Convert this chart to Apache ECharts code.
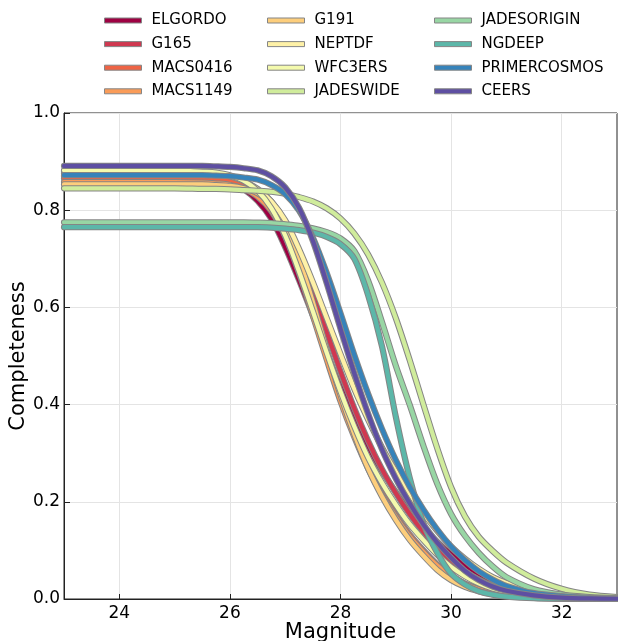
<!DOCTYPE html>
<html>
<head>
<meta charset="utf-8">
<script src="https://cdn.jsdelivr.net/npm/echarts@6/dist/echarts.min.js"></script>
<style>
html,body{margin:0;padding:0;background:#fff;}
#chart{width:618px;height:641px;}
</style>
</head>
<body>
<div id="chart"></div>
<script>
// Magnitude grid shared by all series
var mags = [23, 24, 25, 25.5, 25.75, 26, 26.25, 26.5, 26.75, 27, 27.25, 27.5, 27.75, 28, 28.25, 28.5, 28.75, 29, 29.25, 29.5, 29.75, 30, 30.25, 30.5, 30.75, 31, 31.5, 32, 32.5, 33];

var ELGORDO = [0.876, 0.876, 0.875, 0.872, 0.867, 0.858, 0.843, 0.819, 0.782, 0.724, 0.656, 0.583, 0.508, 0.436, 0.372, 0.314, 0.263, 0.220, 0.181, 0.147, 0.118, 0.092, 0.070, 0.051, 0.037, 0.026, 0.013, 0.007, 0.003, 0.0015];
var G165 = [0.870, 0.870, 0.870, 0.868, 0.867, 0.863, 0.856, 0.842, 0.818, 0.777, 0.711, 0.633, 0.550, 0.468, 0.392, 0.325, 0.267, 0.218, 0.175, 0.138, 0.106, 0.079, 0.057, 0.040, 0.027, 0.018, 0.0085, 0.0037, 0.0016, 0.0008];
var MACS0416 = [0.865, 0.865, 0.865, 0.864, 0.862, 0.860, 0.852, 0.837, 0.808, 0.758, 0.683, 0.596, 0.504, 0.417, 0.341, 0.274, 0.220, 0.173, 0.133, 0.100, 0.071, 0.048, 0.032, 0.021, 0.0137, 0.009, 0.0036, 0.0015, 0.0007, 0.0003];
var MACS1149 = [0.858, 0.858, 0.858, 0.857, 0.855, 0.852, 0.844, 0.828, 0.798, 0.746, 0.671, 0.583, 0.493, 0.407, 0.333, 0.268, 0.214, 0.169, 0.129, 0.097, 0.069, 0.047, 0.031, 0.020, 0.0132, 0.0087, 0.0035, 0.0014, 0.0006, 0.0003];
var G191 = [0.853, 0.853, 0.853, 0.853, 0.8515, 0.850, 0.845, 0.835, 0.813, 0.771, 0.701, 0.611, 0.513, 0.420, 0.339, 0.268, 0.211, 0.163, 0.122, 0.089, 0.060, 0.039, 0.025, 0.016, 0.0098, 0.0067, 0.0025, 0.0009, 0.0004, 0.0002];
var NEPTDF = [0.880, 0.880, 0.880, 0.877, 0.875, 0.870, 0.860, 0.844, 0.818, 0.779, 0.720, 0.652, 0.578, 0.504, 0.432, 0.369, 0.312, 0.262, 0.217, 0.176, 0.140, 0.108, 0.083, 0.062, 0.045, 0.033, 0.017, 0.0085, 0.0043, 0.0022];
var WFC3ERS = [0.882, 0.882, 0.882, 0.879, 0.8776, 0.872, 0.8606, 0.840, 0.804, 0.748, 0.674, 0.592, 0.507, 0.427, 0.355, 0.291, 0.239, 0.194, 0.154, 0.121, 0.091, 0.066, 0.047, 0.032, 0.0215, 0.015, 0.0071, 0.0031, 0.0013, 0.0006];
var JADESWIDE = [0.845, 0.845, 0.845, 0.844, 0.8437, 0.843, 0.8415, 0.840, 0.838, 0.834, 0.827, 0.818, 0.804, 0.783, 0.752, 0.709, 0.651, 0.578, 0.492, 0.400, 0.310, 0.230, 0.170, 0.128, 0.099, 0.075, 0.042, 0.021, 0.009, 0.004];
var JADESORIGIN = [0.775, 0.775, 0.775, 0.775, 0.775, 0.775, 0.775, 0.7745, 0.7735, 0.771, 0.768, 0.763, 0.755, 0.742, 0.716, 0.655, 0.570, 0.480, 0.400, 0.315, 0.237, 0.175, 0.130, 0.095, 0.067, 0.045, 0.020, 0.009, 0.004, 0.002];
var NGDEEP = [0.765, 0.765, 0.765, 0.765, 0.765, 0.765, 0.765, 0.765, 0.764, 0.762, 0.759, 0.754, 0.745, 0.730, 0.700, 0.625, 0.520, 0.375, 0.250, 0.155, 0.095, 0.052, 0.030, 0.016, 0.009, 0.005, 0.0015, 0.0005, 0.0002, 0.0001];
var PRIMERCOSMOS = [0.872, 0.872, 0.872, 0.872, 0.8711, 0.870, 0.8672, 0.863, 0.852, 0.833, 0.799, 0.744, 0.671, 0.588, 0.502, 0.422, 0.350, 0.286, 0.231, 0.184, 0.143, 0.108, 0.080, 0.057, 0.040, 0.027, 0.012, 0.0058, 0.0025, 0.001];
var CEERS = [0.891, 0.891, 0.891, 0.891, 0.8902, 0.889, 0.8864, 0.882, 0.870, 0.847, 0.805, 0.737, 0.650, 0.556, 0.464, 0.381, 0.308, 0.248, 0.197, 0.153, 0.116, 0.085, 0.058, 0.039, 0.0257, 0.017, 0.0075, 0.003, 0.0012, 0.0005];

var names = ['ELGORDO', 'G165', 'MACS0416', 'MACS1149', 'G191', 'NEPTDF', 'WFC3ERS', 'JADESWIDE', 'JADESORIGIN', 'NGDEEP', 'PRIMERCOSMOS', 'CEERS'];
var values = [ELGORDO, G165, MACS0416, MACS1149, G191, NEPTDF, WFC3ERS, JADESWIDE, JADESORIGIN, NGDEEP, PRIMERCOSMOS, CEERS];
var colors = ['#9e0142', '#d03850', '#ee6445', '#fa9c59', '#fdce7c', '#fef1a7', '#f4faad', '#d0ec9c', '#98d6a4', '#5cb7a9', '#3683ba', '#5e4fa2'];

var xTicks = [24, 26, 28, 30, 32];

var FONT = 'DejaVu Sans';
var EDGE = '#858585';

var series = [];
names.forEach(function (n, i) {
  var pts = mags.map(function (m, k) { return [m, values[i][k]]; });
  series.push({
    name: n + ' edge', type: 'line', data: pts, showSymbol: false, symbol: 'none',
    smooth: 0.3, silent: true, color: EDGE,
    lineStyle: { width: 6.2, color: EDGE, cap: 'round', join: 'round' }
  });
  series.push({
    name: n, type: 'line', data: pts, showSymbol: false, symbol: 'none',
    smooth: 0.3, silent: true, color: colors[i],
    lineStyle: { width: 4.2, color: colors[i], cap: 'round', join: 'round' }
  });
});

function legendCol(list, left) {
  return {
    data: list, orient: 'vertical', left: left, top: 13, itemGap: 8.6,
    icon: 'rect', itemWidth: 37, itemHeight: 5, selectedMode: false,
    itemStyle: { borderColor: EDGE, borderWidth: 1 },
    textStyle: { fontFamily: FONT, fontSize: 15, color: '#000', padding: [0, 0, 0, 5] },
    padding: 0
  };
}

var chart = echarts.init(document.getElementById('chart'), null, { renderer: 'canvas' });
chart.setOption({
  animation: false,
  backgroundColor: '#fff',
  legend: [
    legendCol(names.slice(0, 4), 104),
    legendCol(names.slice(4, 8), 267),
    legendCol(names.slice(8, 12), 434)
  ],
  grid: { left: 64, right: 1, top: 113, bottom: 42, containLabel: false, outerBoundsMode: 'none',
    show: true, borderColor: '#222', borderWidth: 1, backgroundColor: '#fff' },
  xAxis: {
    type: 'value', min: 23, max: 33,
    name: 'Magnitude', nameLocation: 'middle', nameGap: 23, nameMoveOverlap: false,
    nameTextStyle: { fontFamily: FONT, fontSize: 21, color: '#000' },
    axisLine: { show: true, lineStyle: { color: '#222', width: 1 } },
    axisTick: { show: true, inside: true, length: 5, customValues: xTicks, lineStyle: { color: '#222' } },
    axisLabel: { customValues: xTicks, fontFamily: FONT, fontSize: 17, color: '#000', margin: 6 },
    splitLine: { show: true, lineStyle: { color: '#e4e4e4', width: 1 } }
  },
  yAxis: {
    type: 'value', min: 0, max: 1, interval: 0.2,
    name: 'Completeness', nameLocation: 'middle', nameGap: 35, nameMoveOverlap: false,
    nameTextStyle: { fontFamily: FONT, fontSize: 21, color: '#000' },
    axisLine: { show: true, lineStyle: { color: '#222', width: 1 } },
    axisTick: { show: true, inside: true, length: 6, lineStyle: { color: '#222' } },
    axisLabel: { fontFamily: FONT, fontSize: 17, color: '#000', margin: 4,
      formatter: function (v) { return v.toFixed(1); } },
    splitLine: { show: true, lineStyle: { color: '#e4e4e4', width: 1 } }
  },
  series: series
});
</script>
</body>
</html>
